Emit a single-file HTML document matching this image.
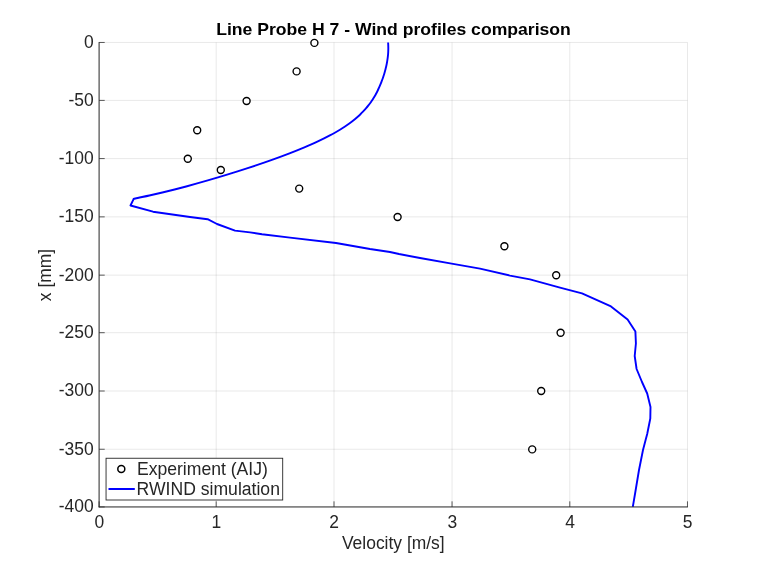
<!DOCTYPE html>
<html><head><meta charset="utf-8"><title>Line Probe H 7</title>
<style>html,body{margin:0;padding:0;background:#fff;}svg{display:block;will-change:transform;}text{font-family:"Liberation Sans",sans-serif;}</style></head><body>
<svg width="760" height="570" viewBox="0 0 760 570">
<rect x="0" y="0" width="760" height="570" fill="#ffffff"/>
<g stroke="#262626" stroke-opacity="0.15" stroke-width="0.7" fill="none">
<line x1="99.10" y1="42.46" x2="99.10" y2="506.94"/>
<line x1="216.20" y1="42.46" x2="216.20" y2="506.94"/>
<line x1="334.00" y1="42.46" x2="334.00" y2="506.94"/>
<line x1="452.05" y1="42.46" x2="452.05" y2="506.94"/>
<line x1="569.80" y1="42.46" x2="569.80" y2="506.94"/>
<line x1="687.48" y1="42.46" x2="687.48" y2="506.94"/>
<line x1="99.10" y1="42.46" x2="687.48" y2="42.46"/>
<line x1="99.10" y1="100.40" x2="687.48" y2="100.40"/>
<line x1="99.10" y1="158.58" x2="687.48" y2="158.58"/>
<line x1="99.10" y1="216.86" x2="687.48" y2="216.86"/>
<line x1="99.10" y1="275.15" x2="687.48" y2="275.15"/>
<line x1="99.10" y1="332.70" x2="687.48" y2="332.70"/>
<line x1="99.10" y1="391.00" x2="687.48" y2="391.00"/>
<line x1="99.10" y1="449.25" x2="687.48" y2="449.25"/>
<line x1="99.10" y1="506.94" x2="687.48" y2="506.94"/>
</g>
<path d="M388.11,42.46 C388.13,42.96 388.23,44.46 388.26,45.46 C388.29,46.46 388.31,47.46 388.31,48.46 C388.31,49.46 388.28,50.46 388.24,51.46 C388.20,52.46 388.14,53.46 388.06,54.46 C387.98,55.46 387.87,56.46 387.75,57.46 C387.63,58.46 387.49,59.46 387.33,60.46 C387.17,61.46 386.99,62.46 386.80,63.46 C386.61,64.46 386.40,65.46 386.17,66.46 C385.94,67.46 385.70,68.46 385.44,69.46 C385.18,70.46 384.91,71.46 384.62,72.46 C384.33,73.46 384.02,74.46 383.70,75.46 C383.38,76.46 383.06,77.46 382.71,78.46 C382.36,79.46 382.00,80.46 381.62,81.46 C381.24,82.46 380.84,83.46 380.43,84.46 C380.02,85.46 379.59,86.46 379.14,87.46 C378.69,88.46 378.23,89.46 377.74,90.46 C377.25,91.46 376.75,92.46 376.21,93.46 C375.67,94.46 375.12,95.46 374.53,96.46 C373.94,97.46 373.33,98.46 372.68,99.46 C372.03,100.46 371.36,101.46 370.65,102.46 C369.94,103.46 369.20,104.46 368.41,105.46 C367.62,106.46 366.81,107.46 365.94,108.46 C365.07,109.46 364.16,110.46 363.21,111.46 C362.25,112.46 361.26,113.46 360.21,114.46 C359.16,115.46 358.05,116.46 356.90,117.46 C355.75,118.46 354.54,119.46 353.28,120.46 C352.02,121.46 350.70,122.46 349.32,123.46 C347.94,124.46 346.51,125.46 345.01,126.46 C343.51,127.46 341.96,128.46 340.34,129.46 C338.72,130.46 337.04,131.46 335.29,132.46 C333.54,133.46 331.73,134.46 329.86,135.46 C327.99,136.46 326.06,137.46 324.06,138.46 C322.06,139.46 320.00,140.46 317.87,141.46 C315.75,142.46 313.56,143.46 311.31,144.46 C309.06,145.46 306.76,146.46 304.39,147.46 C302.02,148.46 299.59,149.46 297.11,150.46 C294.63,151.46 292.09,152.46 289.50,153.46 C286.91,154.46 284.26,155.46 281.56,156.46 C278.86,157.46 276.12,158.46 273.32,159.46 C270.52,160.46 267.68,161.46 264.79,162.46 C261.90,163.46 258.95,164.46 255.97,165.46 C252.99,166.46 249.96,167.46 246.89,168.46 C243.82,169.46 240.70,170.46 237.54,171.46 C234.38,172.46 231.18,173.46 227.92,174.46 C224.66,175.46 221.36,176.46 218.00,177.46 C214.64,178.46 211.24,179.46 207.77,180.46 C204.30,181.46 200.77,182.46 197.17,183.46 C193.56,184.46 189.90,185.46 186.14,186.46 C182.38,187.46 178.54,188.46 174.58,189.46 C170.62,190.46 166.57,191.46 162.36,192.46 C158.15,193.46 153.84,194.46 149.34,195.46 C144.84,196.46 137.95,197.84 135.33,198.46 C132.71,199.08 133.89,199.08 133.60,199.20 L130.5,205.5 L153.0,211.7 L190.0,217.0 L207.6,219.2 L217.0,224.0 L235.0,230.6 L250.0,232.4 L262.0,234.2 L290.0,237.6 L336.0,243.0 L370.0,249.0 L390.0,252.0 L399.0,254.0 L420.0,258.0 L451.6,263.6 L480.0,268.6 L510.0,275.6 L530.0,279.4 L560.0,287.6 L582.0,293.4 L611.0,306.4 L627.6,319.5 L635.4,331.6 L635.9,343.5 L634.7,356.0 L636.6,369.0 L642.0,382.0 L647.2,393.5 L650.5,407.0 L650.3,418.5 L647.2,434.0 L645.6,440.0 L643.0,450.0 L639.0,470.0 L635.0,494.0 L632.8,506.8" fill="none" stroke="#0000ff" stroke-width="1.9" stroke-linejoin="round" stroke-linecap="butt"/>
<g fill="#ffffff" stroke="#000000" stroke-width="1.4">
<circle cx="314.4" cy="42.9" r="3.5"/>
<circle cx="296.6" cy="71.4" r="3.5"/>
<circle cx="246.6" cy="101.0" r="3.5"/>
<circle cx="197.2" cy="130.2" r="3.5"/>
<circle cx="187.8" cy="158.8" r="3.5"/>
<circle cx="220.8" cy="170.0" r="3.5"/>
<circle cx="299.2" cy="188.6" r="3.5"/>
<circle cx="397.6" cy="217.0" r="3.5"/>
<circle cx="504.4" cy="246.2" r="3.5"/>
<circle cx="556.2" cy="275.2" r="3.5"/>
<circle cx="560.6" cy="332.8" r="3.5"/>
<circle cx="541.2" cy="391.0" r="3.5"/>
<circle cx="532.2" cy="449.4" r="3.5"/>
</g>
<g stroke="#262626" stroke-width="0.95" fill="none">
<line x1="99.10" y1="42.06" x2="99.10" y2="507.39"/>
<line x1="98.65" y1="506.94" x2="687.93" y2="506.94"/>
</g>
<g stroke="#262626" stroke-width="0.75" fill="none">
<line x1="99.10" y1="506.94" x2="99.10" y2="501.34"/>
<line x1="216.20" y1="506.94" x2="216.20" y2="501.34"/>
<line x1="334.00" y1="506.94" x2="334.00" y2="501.34"/>
<line x1="452.05" y1="506.94" x2="452.05" y2="501.34"/>
<line x1="569.80" y1="506.94" x2="569.80" y2="501.34"/>
<line x1="687.48" y1="506.94" x2="687.48" y2="501.34"/>
<line x1="99.10" y1="42.46" x2="104.70" y2="42.46"/>
<line x1="99.10" y1="100.40" x2="104.70" y2="100.40"/>
<line x1="99.10" y1="158.58" x2="104.70" y2="158.58"/>
<line x1="99.10" y1="216.86" x2="104.70" y2="216.86"/>
<line x1="99.10" y1="275.15" x2="104.70" y2="275.15"/>
<line x1="99.10" y1="332.70" x2="104.70" y2="332.70"/>
<line x1="99.10" y1="391.00" x2="104.70" y2="391.00"/>
<line x1="99.10" y1="449.25" x2="104.70" y2="449.25"/>
<line x1="99.10" y1="506.94" x2="104.70" y2="506.94"/>
</g>
<g fill="#262626">
<text transform="translate(99.30,527.80) scale(1,1.05)" text-anchor="middle" font-size="17.45">0</text>
<text transform="translate(216.40,527.80) scale(1,1.05)" text-anchor="middle" font-size="17.45">1</text>
<text transform="translate(334.20,527.80) scale(1,1.05)" text-anchor="middle" font-size="17.45">2</text>
<text transform="translate(452.25,527.80) scale(1,1.05)" text-anchor="middle" font-size="17.45">3</text>
<text transform="translate(570.00,527.80) scale(1,1.05)" text-anchor="middle" font-size="17.45">4</text>
<text transform="translate(687.68,527.80) scale(1,1.05)" text-anchor="middle" font-size="17.45">5</text>
<text transform="translate(93.60,47.91) scale(1,1.05)" text-anchor="end" font-size="17.45">0</text>
<text transform="translate(93.60,105.85) scale(1,1.05)" text-anchor="end" font-size="17.45">-50</text>
<text transform="translate(93.60,164.03) scale(1,1.05)" text-anchor="end" font-size="17.45">-100</text>
<text transform="translate(93.60,222.31) scale(1,1.05)" text-anchor="end" font-size="17.45">-150</text>
<text transform="translate(93.60,280.60) scale(1,1.05)" text-anchor="end" font-size="17.45">-200</text>
<text transform="translate(93.60,338.15) scale(1,1.05)" text-anchor="end" font-size="17.45">-250</text>
<text transform="translate(93.60,396.45) scale(1,1.05)" text-anchor="end" font-size="17.45">-300</text>
<text transform="translate(93.60,454.70) scale(1,1.05)" text-anchor="end" font-size="17.45">-350</text>
<text transform="translate(93.60,512.39) scale(1,1.05)" text-anchor="end" font-size="17.45">-400</text>
<text transform="translate(393.30,549.20) scale(1,1.05)" text-anchor="middle" font-size="17.45">Velocity [m/s]</text>
<text transform="translate(51.40,275.00) rotate(-90) scale(1,1.05)" text-anchor="middle" font-size="17.45">x [mm]</text>
</g>
<text transform="translate(393.5,34.9) scale(1,0.93)" text-anchor="middle" font-size="17.6" font-weight="bold" fill="#000000">Line Probe H 7 - Wind profiles comparison</text>
<rect x="106.05" y="458.25" width="176.65" height="41.75" fill="#ffffff" stroke="#262626" stroke-width="0.9"/>
<circle cx="121.3" cy="468.9" r="3.5" fill="#fff" stroke="#000" stroke-width="1.5"/>
<line x1="108.5" y1="489" x2="134.8" y2="489" stroke="#0000ff" stroke-width="2"/>
<g fill="#262626">
<text transform="translate(136.90,474.90) scale(1,1.05)" text-anchor="start" font-size="17.6">Experiment (AIJ)</text>
<text transform="translate(136.60,494.50) scale(1,1.05)" text-anchor="start" font-size="17.6">RWIND simulation</text>
</g>
</svg></body></html>
